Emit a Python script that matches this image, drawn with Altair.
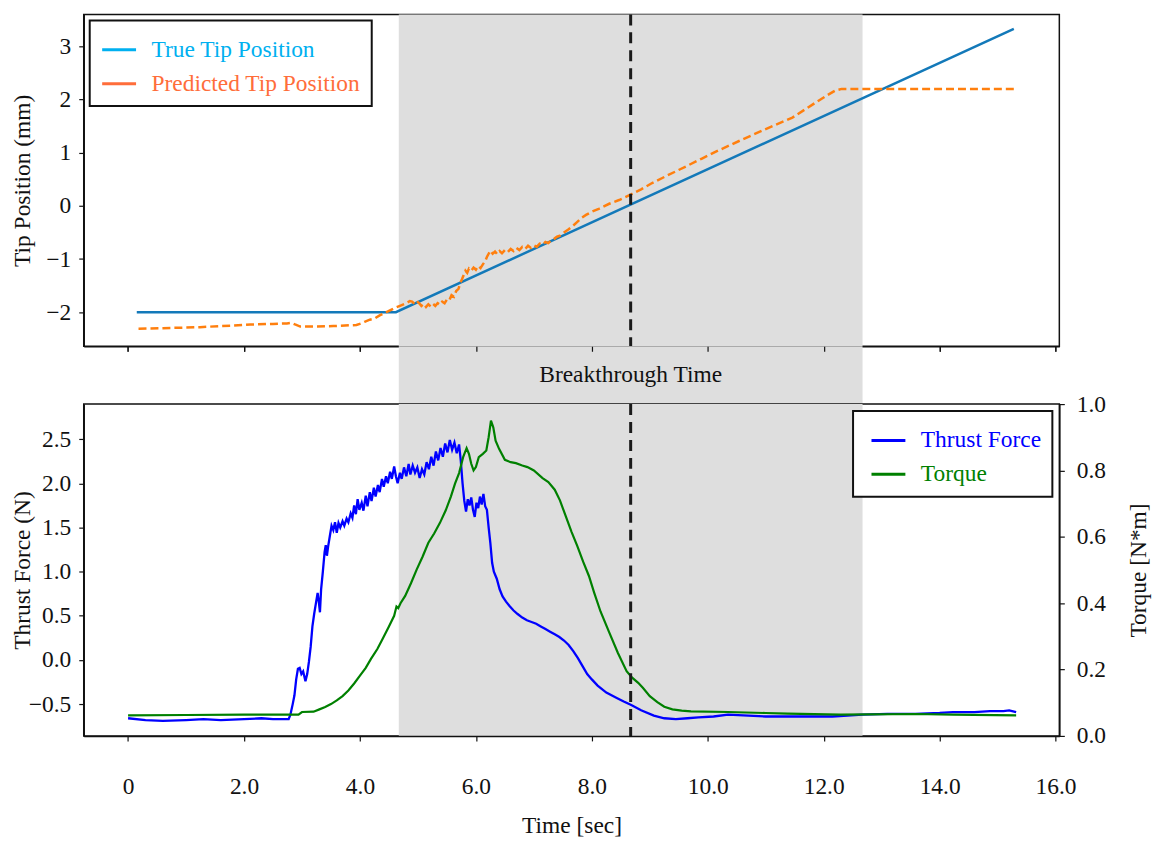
import altair as alt
import pandas as pd

FONT = "Liberation Serif"
INK = "#111111"
BAND = "#dedede"
FS = 23.5

# ---------------- data ----------------
time_ticks = [0, 2, 4, 6, 8, 10, 12, 14, 16]
tip_ticks = [-2, -1, 0, 1, 2, 3]
thrust_ticks = [-0.5, 0.0, 0.5, 1.0, 1.5, 2.0, 2.5]
torque_ticks = [0.0, 0.2, 0.4, 0.6, 0.8, 1.0]

breakthrough_time = 8.67
window_start = 4.67
window_end = 12.67

top_series = ["True Tip Position", "Predicted Tip Position"]
bottom_series = ["Thrust Force", "Torque"]

true_t = [0.15, 4.62, 15.28]
true_v = [-2.0, -2.0, 3.33]

pred_t = [0.18, 0.6, 1.24, 1.8, 2.11, 2.5, 2.74, 2.82, 2.88, 2.97, 3.25, 3.54, 3.94, 4.02, 4.08,
          4.17, 4.25, 4.34, 4.42, 4.51, 4.6, 4.69, 4.78, 4.86,
          4.90, 4.94, 4.98, 5.02, 5.06, 5.10, 5.14, 5.18, 5.22, 5.26, 5.30, 5.34, 5.38, 5.42,
          5.46, 5.50, 5.54, 5.58, 5.62, 5.66, 5.70, 5.73, 5.76, 5.79, 5.82, 5.85, 5.88, 5.92,
          5.96, 6.00, 6.04, 6.08, 6.12, 6.16, 6.19, 6.22, 6.25, 6.29, 6.33, 6.37, 6.41, 6.45,
          6.50, 6.55, 6.60, 6.65, 6.70, 6.75, 6.80, 6.85, 6.90, 6.95, 7.00, 7.05, 7.10, 7.15,
          7.20, 7.25, 7.30, 7.35, 7.40, 7.45, 7.52, 7.60, 7.67, 7.75, 7.83, 7.90, 8.00, 8.13,
          8.30, 8.47, 8.65, 8.85, 9.04, 9.30, 9.62, 9.90, 10.14, 10.54, 10.99, 11.46, 11.80,
          12.03, 12.20, 12.31, 15.29]
pred_v = [-2.31, -2.30, -2.28, -2.25, -2.23, -2.22, -2.21, -2.20, -2.23, -2.27, -2.27, -2.26,
          -2.24, -2.21, -2.18, -2.14, -2.12, -2.06, -2.02, -1.97, -1.92, -1.88, -1.84, -1.79,
          -1.80, -1.84, -1.79, -1.83, -1.88, -1.84, -1.90, -1.85, -1.89, -1.84, -1.88, -1.83,
          -1.86, -1.80, -1.83, -1.76, -1.78, -1.68, -1.71, -1.60, -1.56, -1.45, -1.38, -1.30,
          -1.22, -1.26, -1.18, -1.22, -1.16, -1.20, -1.13, -1.17, -1.10, -1.04, -0.96, -0.90,
          -0.84, -0.90, -0.86, -0.91, -0.85, -0.89, -0.83, -0.87, -0.81, -0.85, -0.79, -0.83,
          -0.77, -0.81, -0.75, -0.79, -0.74, -0.77, -0.71, -0.73, -0.68, -0.70, -0.65, -0.62,
          -0.58, -0.56, -0.50, -0.44, -0.38, -0.30, -0.22, -0.17, -0.11, -0.05, 0.04, 0.11,
          0.20, 0.31, 0.43, 0.57, 0.74, 0.89, 1.02, 1.22, 1.44, 1.66, 1.90, 2.06, 2.17, 2.20,
          2.20]

thrust_t = [0.00, 0.3, 0.6, 1.0, 1.3, 1.6, 2.0, 2.3, 2.5, 2.77, 2.80, 2.84, 2.87, 2.90, 2.93,
            2.96, 2.99, 3.02, 3.06, 3.09, 3.12, 3.15, 3.18, 3.21, 3.24, 3.27, 3.29, 3.31, 3.33,
            3.36, 3.39, 3.41, 3.43, 3.45, 3.48, 3.51, 3.54, 3.57, 3.60, 3.63, 3.66, 3.70, 3.73,
            3.77, 3.80, 3.84, 3.87, 3.90, 3.93, 3.96, 3.99, 4.03, 4.06, 4.10, 4.13, 4.17, 4.20,
            4.24, 4.27, 4.31, 4.34, 4.38, 4.41, 4.45, 4.48, 4.52, 4.55, 4.59, 4.62, 4.65, 4.69,
            4.72, 4.76, 4.80, 4.84, 4.87, 4.91, 4.95, 4.99, 5.03, 5.07, 5.11, 5.15, 5.19, 5.23,
            5.27, 5.31, 5.35, 5.39, 5.43, 5.47, 5.51, 5.55, 5.59, 5.63, 5.67, 5.71, 5.74, 5.77,
            5.80, 5.83, 5.86, 5.89, 5.92, 5.95, 5.98, 6.01, 6.04, 6.07, 6.10, 6.13, 6.16, 6.19,
            6.22, 6.25, 6.28, 6.31, 6.36, 6.41, 6.46, 6.52, 6.58, 6.65, 6.72, 6.80, 6.88, 6.96,
            7.04, 7.12, 7.20, 7.28, 7.36, 7.44, 7.52, 7.60, 7.68, 7.76, 7.84, 7.92, 8.00, 8.10,
            8.25, 8.43, 8.55, 8.68, 8.85, 9.07, 9.25, 9.45, 9.65, 9.84, 10.1, 10.35, 10.7, 11.0,
            11.5, 12.15, 12.67, 13.1, 13.58, 14.0, 14.23, 14.6, 14.87, 15.1, 15.2, 15.32]
thrust_v = [-0.66, -0.68, -0.69, -0.68, -0.67, -0.68, -0.67, -0.66, -0.67, -0.67, -0.62, -0.50,
            -0.40, -0.22, -0.10, -0.09, -0.16, -0.13, -0.24, -0.16, -0.02, 0.15, 0.38, 0.52,
            0.64, 0.76, 0.66, 0.54, 0.80, 1.00, 1.22, 1.30, 1.18, 1.28, 1.40, 1.52, 1.47, 1.56,
            1.44, 1.55, 1.50, 1.57, 1.52, 1.60, 1.56, 1.66, 1.61, 1.75, 1.65, 1.82, 1.70, 1.78,
            1.69, 1.86, 1.74, 1.90, 1.80, 1.95, 1.85, 1.98, 1.90, 2.05, 1.96, 2.08, 2.00, 2.13,
            2.05, 2.19, 2.08, 2.00, 2.12, 2.05, 2.18, 2.08, 2.22, 2.10, 2.20, 2.12, 2.18, 2.06,
            2.16, 2.10, 2.24, 2.16, 2.30, 2.20, 2.36, 2.26, 2.40, 2.30, 2.45, 2.35, 2.49, 2.38,
            2.46, 2.34, 2.44, 2.25, 2.00, 1.80, 1.68, 1.82, 1.75, 1.84, 1.70, 1.62, 1.78, 1.72,
            1.85, 1.76, 1.88, 1.74, 1.70, 1.50, 1.32, 1.10, 1.00, 0.92, 0.80, 0.72, 0.66, 0.61,
            0.56, 0.52, 0.48, 0.45, 0.43, 0.41, 0.38, 0.35, 0.32, 0.29, 0.26, 0.22, 0.17, 0.10,
            0.02, -0.07, -0.16, -0.22, -0.29, -0.37, -0.43, -0.47, -0.51, -0.57, -0.63, -0.66,
            -0.67, -0.66, -0.65, -0.64, -0.62, -0.63, -0.64, -0.64, -0.64, -0.62, -0.61, -0.61,
            -0.60, -0.59, -0.59, -0.58, -0.58, -0.57, -0.59]

torque_t = [0.0, 1.0, 2.0, 2.94, 3.0, 3.2, 3.3, 3.4, 3.5, 3.6, 3.7, 3.8, 3.9, 4.0, 4.1, 4.19,
            4.3, 4.39, 4.5, 4.59, 4.63, 4.66, 4.7, 4.78, 4.88, 4.98, 5.08, 5.18, 5.28, 5.38,
            5.48, 5.57, 5.64, 5.71, 5.78, 5.84, 5.88, 5.92, 5.96, 6.0, 6.05, 6.12, 6.18, 6.22,
            6.26, 6.30, 6.34, 6.40, 6.5, 6.6, 6.69, 6.8, 6.89, 7.0, 7.15, 7.25, 7.36, 7.45,
            7.55, 7.65, 7.75, 7.85, 7.95, 8.04, 8.15, 8.3, 8.45, 8.6, 8.7, 8.8, 8.88, 9.0, 9.13,
            9.25, 9.39, 9.55, 9.71, 10.35, 11.0, 11.38, 12.29, 12.8, 13.58, 14.23, 15.32]
torque_v = [0.062, 0.063, 0.064, 0.064, 0.072, 0.073, 0.08, 0.087, 0.096, 0.107, 0.12, 0.137,
            0.158, 0.182, 0.205, 0.232, 0.262, 0.292, 0.33, 0.362, 0.39, 0.385, 0.40, 0.422,
            0.46, 0.502, 0.54, 0.582, 0.61, 0.642, 0.68, 0.722, 0.76, 0.792, 0.84, 0.867, 0.85,
            0.82, 0.80, 0.81, 0.84, 0.85, 0.86, 0.90, 0.95, 0.93, 0.89, 0.865, 0.832, 0.825,
            0.822, 0.815, 0.81, 0.80, 0.777, 0.765, 0.742, 0.71, 0.662, 0.615, 0.572, 0.525,
            0.482, 0.432, 0.375, 0.312, 0.25, 0.195, 0.175, 0.16, 0.145, 0.12, 0.102, 0.088,
            0.080, 0.076, 0.074, 0.072, 0.069, 0.067, 0.064, 0.065, 0.066, 0.064, 0.062]

true_df = pd.DataFrame({"t": true_t, "v": true_v})
pred_df = pd.DataFrame({"t": pred_t, "v": pred_v})
thrust_df = pd.DataFrame({"t": thrust_t, "v": thrust_v, "series": bottom_series[0]})
torque_df = pd.DataFrame({"t": torque_t, "v": torque_v, "series": bottom_series[1]})
band_df = pd.DataFrame({"start": [window_start], "end": [window_end]})
rule_df = pd.DataFrame({"t": [breakthrough_time]})
gap_label_df = pd.DataFrame({"t": [breakthrough_time], "label": ["Breakthrough Time"]})

# ---------------- layout / style ----------------
W, H, GAP = 979, 333, 58

x_scale = alt.Scale(domain=[-0.765, 16.065], nice=False, zero=False)
tip_scale = alt.Scale(domain=[-2.64, 3.6], nice=False, zero=False)
thrust_scale = alt.Scale(domain=[-0.86, 2.897], nice=False, zero=False)
torque_scale = alt.Scale(domain=[0.0, 1.0], nice=False, zero=False)

top_x_axis = alt.Axis(values=time_ticks, labels=False, title=None, zindex=1)
gap_x_axis = alt.Axis(orient="top", values=time_ticks, labels=False, title=None,
                      domain=False, offset=-5, zindex=1)
bottom_x_axis = alt.Axis(values=time_ticks, title="Time [sec]", zindex=1,
                         labelExpr="datum.value === 0 ? '0' : format(datum.value, '.1f')",
                         labelPadding=34, titlePadding=15)
tip_axis = alt.Axis(values=tip_ticks, format="d", title="Tip Position (mm)", zindex=1,
                    labelPadding=8, titleX=-61, titleBaseline="middle")
thrust_axis = alt.Axis(orient="left", values=thrust_ticks, format=".1f", title="Thrust Force (N)",
                       zindex=1, labelPadding=8, titleX=-61, titleBaseline="middle")
torque_axis = alt.Axis(orient="right", values=torque_ticks, format=".1f", title="Torque [N*m]",
                       zindex=1, labelPadding=12, titleX=79, titleAngle=270,
                       titleBaseline="middle")

top_legend = alt.Legend(
    title=None, orient="top-left", offset=6, padding=11, symbolType="stroke",
    symbolSize=1156, symbolStrokeWidth=3, labelOffset=14, rowPadding=4, labelLimit=0,
    labelColor={"expr": "datum.label === 'True Tip Position' ? '#00b0f0' : '#ff6d3a'"},
)
bottom_legend = alt.Legend(
    title=None, orient="top-right", offset=7, padding=11, symbolType="stroke",
    symbolSize=1156, symbolStrokeWidth=3, labelOffset=14, rowPadding=4, symbolOffset=6,
    labelLimit=0,
    labelColor={"expr": "datum.label === 'Thrust Force' ? '#0000ff' : '#008000'"},
)

# ---------------- top panel ----------------
band_top = alt.Chart(band_df).mark_rect(color=BAND).encode(
    x=alt.X("start:Q", scale=x_scale, axis=top_x_axis), x2="end:Q")
true_line = alt.Chart(true_df).mark_line(color="#1379b9", strokeWidth=2.5).encode(
    x=alt.X("t:Q", scale=x_scale, axis=top_x_axis),
    y=alt.Y("v:Q", scale=tip_scale, axis=tip_axis))
pred_line = alt.Chart(pred_df).mark_line(color="#ff7f0e", strokeWidth=2.5, strokeDash=[8, 4]).encode(
    x=alt.X("t:Q", scale=x_scale, axis=top_x_axis),
    y=alt.Y("v:Q", scale=tip_scale, axis=tip_axis))
rule_top = alt.Chart(rule_df).mark_rule(color="#1a1a1a", strokeWidth=3, strokeDash=[11, 7]).encode(
    x=alt.X("t:Q", scale=x_scale, axis=top_x_axis))
legend_top = alt.Chart(alt.Data(values=[])).mark_line().encode(
    x=alt.X("t:Q", scale=x_scale, axis=top_x_axis),
    y=alt.Y("v:Q", scale=tip_scale, axis=tip_axis),
    color=alt.Color("tipseries:N", scale=alt.Scale(domain=top_series, range=["#00b0f0", "#ff6d3a"]),
                    legend=top_legend))
top = alt.layer(band_top, true_line, pred_line, rule_top, legend_top).properties(width=W, height=H)

# ---------------- gap strip ----------------
gap_band = alt.Chart(band_df).mark_rect(color=BAND).encode(
    x=alt.X("start:Q", scale=x_scale, axis=gap_x_axis), x2="end:Q")
gap_text = alt.Chart(gap_label_df).mark_text(font=FONT, fontSize=FS, color=INK, baseline="middle").encode(
    x=alt.X("t:Q", scale=x_scale, axis=gap_x_axis), text="label:N")
gap = alt.layer(gap_band, gap_text).properties(
    width=W, height=GAP, view=alt.ViewBackground(stroke="transparent"))

# ---------------- bottom panel ----------------
color_bottom = alt.Color("series:N", scale=alt.Scale(domain=bottom_series, range=["#0000ff", "#008000"]),
                         legend=bottom_legend)
band_bot = alt.Chart(band_df).mark_rect(color=BAND).encode(
    x=alt.X("start:Q", scale=x_scale, axis=bottom_x_axis), x2="end:Q")
thrust_line = alt.Chart(thrust_df).mark_line(strokeWidth=2.3).encode(
    x=alt.X("t:Q", scale=x_scale, axis=bottom_x_axis),
    y=alt.Y("v:Q", scale=thrust_scale, axis=thrust_axis),
    color=color_bottom)
torque_line = alt.Chart(torque_df).mark_line(strokeWidth=2.2).encode(
    x=alt.X("t:Q", scale=x_scale, axis=bottom_x_axis),
    y=alt.Y("v:Q", scale=torque_scale, axis=torque_axis),
    color=color_bottom)
rule_bot = alt.Chart(rule_df).mark_rule(color="#1a1a1a", strokeWidth=3, strokeDash=[11, 7]).encode(
    x=alt.X("t:Q", scale=x_scale, axis=bottom_x_axis))
bottom = alt.layer(band_bot, thrust_line, torque_line, rule_bot).resolve_scale(
    y="independent").properties(width=W, height=H)

chart = (
    alt.vconcat(top, gap, bottom, spacing=0, bounds="flush")
    .resolve_scale(color="independent")
    .resolve_legend(color="independent")
    .properties(padding={"left": 2, "top": 2, "right": 5, "bottom": 5})
    .configure(font=FONT)
    .configure_view(stroke="#111111", strokeWidth=1.5)
    .configure_axis(
        grid=False, domainColor="#111111", domainWidth=1.5, tickColor="#111111", tickSize=5,
        tickWidth=1.2, labelFont=FONT, labelFontSize=FS, labelColor=INK, titleFont=FONT,
        titleFontSize=FS, titleFontWeight="normal", titleColor=INK)
    .configure_legend(
        labelFont=FONT, labelFontSize=FS, strokeColor="#111111", strokeWidth=2,
        fillColor="white", cornerRadius=0)
)

chart.save("out.html", embed_options={"renderer": "svg", "actions": False})
